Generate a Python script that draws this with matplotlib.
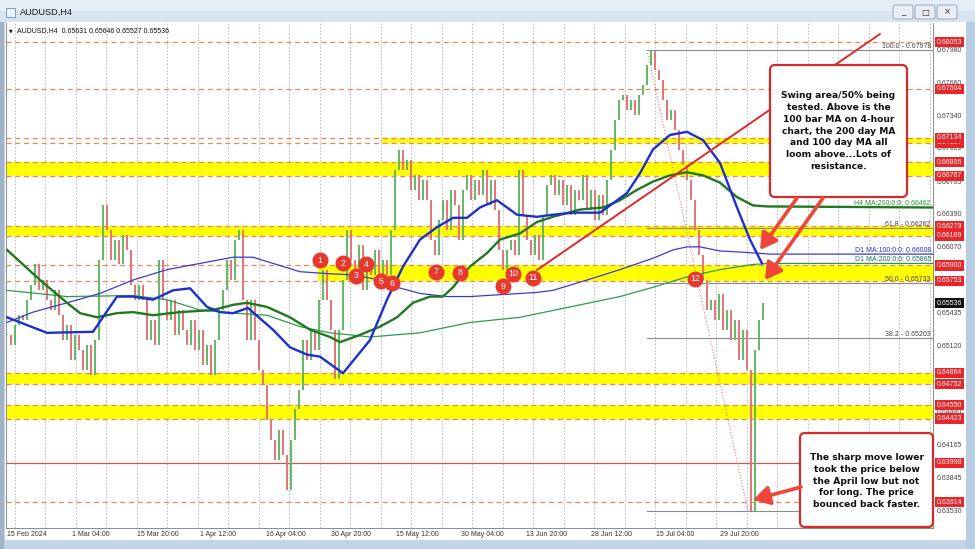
import matplotlib
matplotlib.use("Agg")
import matplotlib.pyplot as plt
import numpy as np
from matplotlib.patches import Rectangle, FancyBboxPatch, FancyArrowPatch
from matplotlib.transforms import IdentityTransform, blended_transform_factory

plt.rcParams['font.family'] = ['Liberation Sans', 'DejaVu Sans']

# ---------------- data ----------------
# AUDUSD H4 closes (sampled every 4th bar)
closes = [
    0.6523, 0.6513, 0.6533, 0.6542, 0.6537, 0.6557, 0.6571, 0.6591, 0.6566, 0.6576,
    0.6557, 0.6547, 0.6566, 0.6542, 0.6518, 0.6533, 0.6499, 0.6523, 0.6508, 0.6489,
    0.6513, 0.6484, 0.6518, 0.6595, 0.6648, 0.6624, 0.6595, 0.6615, 0.6591, 0.6619,
    0.6605, 0.6571, 0.6557, 0.6571, 0.6557, 0.6518, 0.6537, 0.6513, 0.6595, 0.6557,
    0.6537, 0.6557, 0.6523, 0.6547, 0.6528, 0.6513, 0.6537, 0.6508, 0.6528, 0.6494,
    0.6513, 0.6484, 0.6518, 0.6547, 0.6566, 0.6595, 0.6576, 0.6615, 0.6624, 0.6557,
    0.6518, 0.6557, 0.6518, 0.6489, 0.6475, 0.6441, 0.6422, 0.6402, 0.6431, 0.6407,
    0.6373, 0.6422, 0.6451, 0.6470, 0.6518, 0.6499, 0.6528, 0.6508, 0.6557, 0.6586,
    0.6557, 0.6528, 0.6480, 0.6528, 0.6576, 0.6624, 0.6595, 0.6576, 0.6610, 0.6566,
    0.6595, 0.6581, 0.6605, 0.6576, 0.6595, 0.6581, 0.6624, 0.6682, 0.6701, 0.6682,
    0.6692, 0.6663, 0.6677, 0.6653, 0.6673, 0.6653, 0.6615, 0.6600, 0.6634, 0.6653,
    0.6624, 0.6663, 0.6648, 0.6615, 0.6663, 0.6677, 0.6653, 0.6673, 0.6658, 0.6682,
    0.6648, 0.6673, 0.6644, 0.6605, 0.6586, 0.6605, 0.6615, 0.6600, 0.6682, 0.6639,
    0.6615, 0.6600, 0.6619, 0.6595, 0.6639, 0.6668, 0.6677, 0.6658, 0.6673, 0.6648,
    0.6668, 0.6639, 0.6663, 0.6653, 0.6677, 0.6644, 0.6663, 0.6634, 0.6658, 0.6639,
    0.6673, 0.6701, 0.6730, 0.6750, 0.6755, 0.6740, 0.6750, 0.6735, 0.6755, 0.6764,
    0.6784, 0.6797, 0.6779, 0.6769, 0.6750, 0.6730, 0.6740, 0.6721, 0.6701, 0.6687,
    0.6673, 0.6653, 0.6624, 0.6600, 0.6576, 0.6547, 0.6557, 0.6537, 0.6562, 0.6528,
    0.6547, 0.6518, 0.6537, 0.6499, 0.6528, 0.6489, 0.6353, 0.6508, 0.6537, 0.65536,
]

# moving averages (bar position, price)
ma_h4_100_x = [7, 47, 93, 117, 133, 153, 173, 190, 207, 220, 233, 248, 273, 290, 307, 320, 343, 370,
               387, 403, 420, 437, 453, 467, 480, 497, 507, 517, 537, 553, 573, 600, 613, 627, 640,
               653, 670, 687, 703, 720, 737, 750, 762]
ma_h4_100 = [0.6540, 0.6525, 0.6526, 0.6560, 0.6560, 0.6557, 0.6566, 0.6568, 0.6550, 0.6545, 0.6544,
             0.6549, 0.6528, 0.6511, 0.6504, 0.6502, 0.6486, 0.6518, 0.6557, 0.6589, 0.6615, 0.6627,
             0.6636, 0.6636, 0.6646, 0.6653, 0.6646, 0.6639, 0.6637, 0.6639, 0.6641, 0.6641, 0.6650,
             0.6660, 0.6679, 0.6702, 0.6716, 0.6719, 0.6711, 0.6689, 0.6646, 0.6615, 0.6592]

ma_h4_200_x = [7, 40, 67, 80, 97, 117, 133, 153, 180, 213, 233, 247, 267, 290, 310, 330, 340, 360, 380,
               397, 413, 430, 443, 453, 470, 487, 500, 520, 537, 553, 580, 603, 620, 637, 653, 670,
               687, 703, 720, 737, 753, 767, 933]
ma_h4_200 = [0.6605, 0.6576, 0.6554, 0.6544, 0.6540, 0.6544, 0.6545, 0.6542, 0.6545, 0.6547, 0.6552,
             0.6554, 0.6550, 0.6540, 0.6528, 0.6521, 0.6516, 0.6523, 0.6531, 0.6540, 0.6554, 0.6560,
             0.6560, 0.6569, 0.6589, 0.6602, 0.6615, 0.6621, 0.6632, 0.6637, 0.6644, 0.6646, 0.6653,
             0.6663, 0.6671, 0.6677, 0.6680, 0.6677, 0.6670, 0.6656, 0.6648, 0.6647, 0.6646]

ma_d1_100_x = [7, 33, 67, 100, 133, 167, 200, 233, 253, 273, 300, 330, 353, 380, 397, 420, 447, 470,
               503, 537, 553, 587, 620, 653, 673, 687, 700, 720, 740, 770, 933]
ma_d1_100 = [0.6535, 0.6545, 0.6554, 0.6563, 0.6576, 0.6586, 0.6592, 0.6598, 0.6598, 0.6592, 0.6584,
             0.6582, 0.6581, 0.6576, 0.6569, 0.6563, 0.6560, 0.6560, 0.6562, 0.6564, 0.6566, 0.6576,
             0.6586, 0.6597, 0.6605, 0.6608, 0.6608, 0.6604, 0.6603, 0.6601, 0.6601]

ma_d1_200_x = [7, 67, 133, 167, 200, 233, 267, 300, 330, 370, 420, 470, 520, 570, 620, 653, 687, 720,
               753, 770, 933]
ma_d1_200 = [0.6566, 0.6560, 0.6561, 0.6557, 0.6547, 0.6544, 0.6542, 0.6531, 0.6525, 0.6521, 0.6525,
             0.6535, 0.6540, 0.6550, 0.6560, 0.6569, 0.6579, 0.6586, 0.6591, 0.6592, 0.6592]

# support / resistance zones
bands_full = [(0.66767, 0.66896), (0.66189, 0.66279), (0.64752, 0.64864), (0.64423, 0.64550)]
bands_partial_start = [382, 318]
bands_partial = [(0.67087, 0.67134), (0.65753, 0.65900)]
dashed_levels = [0.68053, 0.67604, 0.67134, 0.67087, 0.66896, 0.66767, 0.66279, 0.66189,
                 0.65900, 0.65753, 0.64864, 0.64752, 0.64550, 0.64423, 0.63614]
solid_level = 0.63998

# Fibonacci retracement
fib_pct = ['100.0', '61.8', '50.0', '38.2']
fib_vals = [0.67978, 0.66262, 0.65733, 0.65203]
fib_low = 0.63530

# labels
price_ticks = [0.67980, 0.67660, 0.67340, 0.67025, 0.66705, 0.66390, 0.66070, 0.65435, 0.65120,
               0.64480, 0.64165, 0.63845, 0.63530]
red_labels = [0.68053, 0.67604, 0.67087, 0.67134, 0.66896, 0.66767, 0.66279, 0.66189, 0.65900,
              0.65753, 0.64864, 0.64752, 0.64550, 0.64423, 0.63998, 0.63614]
last_price = 0.65536
time_labels = ['15 Feb 2024', '1 Mar 04:00', '15 Mar 20:00', '1 Apr 12:00', '16 Apr 04:00',
               '30 Apr 20:00', '15 May 12:00', '30 May 04:00', '13 Jun 20:00', '28 Jun 12:00',
               '15 Jul 04:00', '29 Jul 20:00']
time_label_bars = [7, 72, 137, 200, 266, 331, 396, 461, 526, 591, 656, 720]

circle_nums = list(range(1, 13))
circle_x = [320, 343, 356, 366, 381, 392, 436, 460, 503, 513, 533, 695]
circle_y = [0.6595, 0.6592, 0.6580, 0.6591, 0.6575, 0.6573, 0.6584, 0.6583, 0.6570, 0.6582, 0.6578, 0.6577]

text1 = ("Swing area/50% being\ntested. Above is the\n100 bar MA on 4-hour\n"
         "chart, the 200 day MA\nand 100 day MA all\nloom above...Lots of\nresistance.")
text2 = ("The sharp move lower\ntook the price below\nthe April low but not\n"
         "for long. The price\nbounced back faster.")

# ---------------- figure ----------------
W, H = 975, 549
fig = plt.figure(figsize=(W / 100, H / 100), dpi=100)
fig.patch.set_facecolor('#c3d4e7')


def fx(px):
    return px / W


def fy(py):
    return 1 - py / H


def py2p(py):
    return 0.6798 - (py - 50) / 10360.0


ID = IdentityTransform()

# window chrome
fig.add_artist(Rectangle((0, H - 22), W, 22, transform=ID, fc='#d7e3f0', ec='none', zorder=0))
fig.add_artist(Rectangle((0, H - 11), W, 11, transform=ID, fc='#e4edf6', ec='none', zorder=0))
fig.add_artist(Rectangle((5, 0), 961, H - 22, transform=ID, fc='white', ec='none', zorder=0))
fig.add_artist(Rectangle((0, 0), W, 9, transform=ID, fc='#c3d4e7', ec='none', zorder=0.1))
fig.add_artist(Rectangle((966, 0), 9, H - 22, transform=ID, fc='#b8cce2', ec='none', zorder=0.1))
fig.add_artist(Rectangle((0, 0), 4, H - 22, transform=ID, fc='#9fb3c9', ec='none', zorder=0.1))
fig.add_artist(Rectangle((6, H - 17), 9, 9, transform=ID, fc='#eef3f8', ec='#6f8fb0', lw=0.6, zorder=1))
fig.text(fx(20), fy(12), 'AUDUSD,H4', fontsize=6.6, color='#1a1a1a', va='center', ha='left')
for bx, sym in zip([893, 915, 937], ['_', '\u25a1', '\u00d7']):
    fig.add_artist(FancyBboxPatch((bx, H - 19), 20, 14, boxstyle='round,pad=0,rounding_size=2',
                                  transform=ID, fc='#e9eef4', ec='#8b9db2', lw=0.6, zorder=1))
    fig.text(fx(bx + 10), fy(12), sym, fontsize=6, color='#333', ha='center', va='center',
             family=['DejaVu Sans'])

ax = fig.add_axes([fx(6), fy(528), fx(933) - fx(6), fy(23) - fy(528)])
ax.set_xlim(6, 933)
ax.set_ylim(py2p(528), py2p(23))
ax.set_xticks([])
ax.set_yticks([])
for s in ax.spines.values():
    s.set_color('#7a7a7a')
    s.set_linewidth(0.6)
ax.spines['top'].set_visible(False)

# vertical grid
for gx in np.arange(15, 933, 30.5):
    ax.axvline(gx, color='#b5b5b5', lw=0.6, ls=(0, (2, 2)), zorder=0.5)

# zones
for lo, hi in bands_full:
    ax.axhspan(lo, hi, color='#ffff00', zorder=1, lw=0)
for x0, (lo, hi) in zip(bands_partial_start, bands_partial):
    ax.fill_between([x0, 933], lo, hi, color='#ffff00', zorder=1, lw=0)
for lv in dashed_levels:
    ax.axhline(lv, color='#e8875f', lw=0.9, ls=(0, (4, 3)), zorder=1.5)
ax.axhline(solid_level, color='#d9534f', lw=0.9, zorder=1.5)

# candles
c = np.array(closes)
bx_ = 7 + 4 * np.arange(len(c))
o = np.r_[c[0], c[:-1]]
lo = np.minimum(o, c)
hi = np.maximum(np.maximum(o, c), lo + 0.00008)
up = c >= o
ax.vlines(bx_[up], lo[up], hi[up], color='#62b862', lw=1.4, zorder=3)
ax.vlines(bx_[~up], lo[~up], hi[~up], color='#e47474', lw=1.4, zorder=3)

# moving averages
ax.plot(ma_d1_200_x, ma_d1_200, color='#2e9a50', lw=0.9, zorder=4)
ax.plot(ma_d1_100_x, ma_d1_100, color='#3a3ad8', lw=0.9, zorder=4)
ax.plot(ma_h4_200_x, ma_h4_200, color='#1f7a1f', lw=1.7, zorder=4)
ax.plot(ma_h4_100_x, ma_h4_100, color='#1c2fd0', lw=1.7, zorder=4.1)

# fibonacci
for lv in fib_vals + [fib_low]:
    ax.plot([647, 933], [lv, lv], color='#8a8a8a', lw=0.8, zorder=2)
for pct, lv in zip(fib_pct, fib_vals):
    ax.text(931, lv, f'{pct} - {lv:.5f}', fontsize=5, color='#444', ha='right', va='bottom', zorder=6)
ax.plot([647, 748], [fib_vals[0], fib_low], color='#e06060', lw=0.7, ls=(0, (1, 2)), zorder=2.5)

# MA value labels
ax.text(931, ma_h4_200[-1] + 0.00003, 'H4 MA:200:0:0: 0.66462', fontsize=5, color='#2e8b2e',
        ha='right', va='bottom', zorder=6)
ax.text(931, ma_d1_100[-1] + 0.00005, 'D1 MA:100:0:0: 0.66008', fontsize=5, color='#3030c0',
        ha='right', va='bottom', zorder=6)
ax.text(931, ma_d1_200[-1] + 0.00002, 'D1 MA:200:0:0: 0.65865', fontsize=5, color='#1f6f5f',
        ha='right', va='bottom', zorder=6)

# trend line
ax.plot([537, 880], [py2p(270), py2p(34)], color='#e0282a', lw=1.4, zorder=5, solid_capstyle='round')

# numbered circles
ax.plot(circle_x, circle_y, 'o', ms=10.5, mfc='#e8382e', mec='#e8382e', zorder=7, ls='none')
for n, cx, cy in zip(circle_nums, circle_x, circle_y):
    ax.text(cx, cy, str(n), color='white', fontsize=6.3, ha='center', va='center', zorder=8)

# annotation boxes
fig.add_artist(FancyBboxPatch((770, H - 197), 137, 132, boxstyle='round,pad=0,rounding_size=5',
                              transform=ID, fc='white', ec='#d42a2a', lw=1.6, zorder=9))
fig.text(fx(838.5), fy(131), text1, ha='center', va='center', fontsize=6.6, fontweight='bold',
         linespacing=1.42, color='#111', zorder=10, family=['DejaVu Sans'])
fig.add_artist(FancyBboxPatch((800, H - 527), 133, 94, boxstyle='round,pad=0,rounding_size=5',
                              transform=ID, fc='white', ec='#d42a2a', lw=1.6, zorder=9))
fig.text(fx(866.5), fy(481), text2, ha='center', va='center', fontsize=6.6, fontweight='bold',
         linespacing=1.42, color='#111', zorder=10, family=['DejaVu Sans'])

# arrows
for (x0, y0), (x1, y1) in [((797, 198), (760, 250)), ((823, 198), (765, 280)), ((801, 487), (753, 500))]:
    fig.add_artist(FancyArrowPatch((x0, H - y0), (x1, H - y1), transform=ID,
                                   arrowstyle='-|>,head_length=0.55,head_width=0.32', mutation_scale=18,
                                   color='#f0453a', lw=2.6, shrinkA=0, shrinkB=0, zorder=11))

# price axis labels
tr = blended_transform_factory(ax.transAxes, ax.transData)
xa = (937 - 6) / (933 - 6)
for v in price_ticks:
    ax.text(xa, v, f'{v:.5f}', transform=tr, fontsize=5, color='#444', va='center', ha='left',
            clip_on=False)
for v in red_labels:
    ax.text(xa, v, f'{v:.5f}', transform=tr, fontsize=5, color='white', va='center', ha='left',
            clip_on=False, bbox=dict(boxstyle='square,pad=0.22', fc='#e8262a', ec='none'), zorder=12)
ax.text(xa, last_price, f'{last_price:.5f}', transform=tr, fontsize=5, color='white', va='center',
        ha='left', clip_on=False, bbox=dict(boxstyle='square,pad=0.22', fc='#111111', ec='none'), zorder=12)

# time axis labels
for lab, b in zip(time_labels, time_label_bars):
    fig.text(fx(b), fy(535), lab, fontsize=5, color='#333', ha='left', va='center')

# info line
fig.text(fx(9), fy(31), '\u25bc', fontsize=3.5, color='#111', va='center', family=['DejaVu Sans'])
fig.text(fx(17), fy(31), 'AUDUSD,H4  0.65631 0.65646 0.65527 0.65536', fontsize=5, color='#111',
         va='center', ha='left')

fig.savefig('out.png', dpi=100)
